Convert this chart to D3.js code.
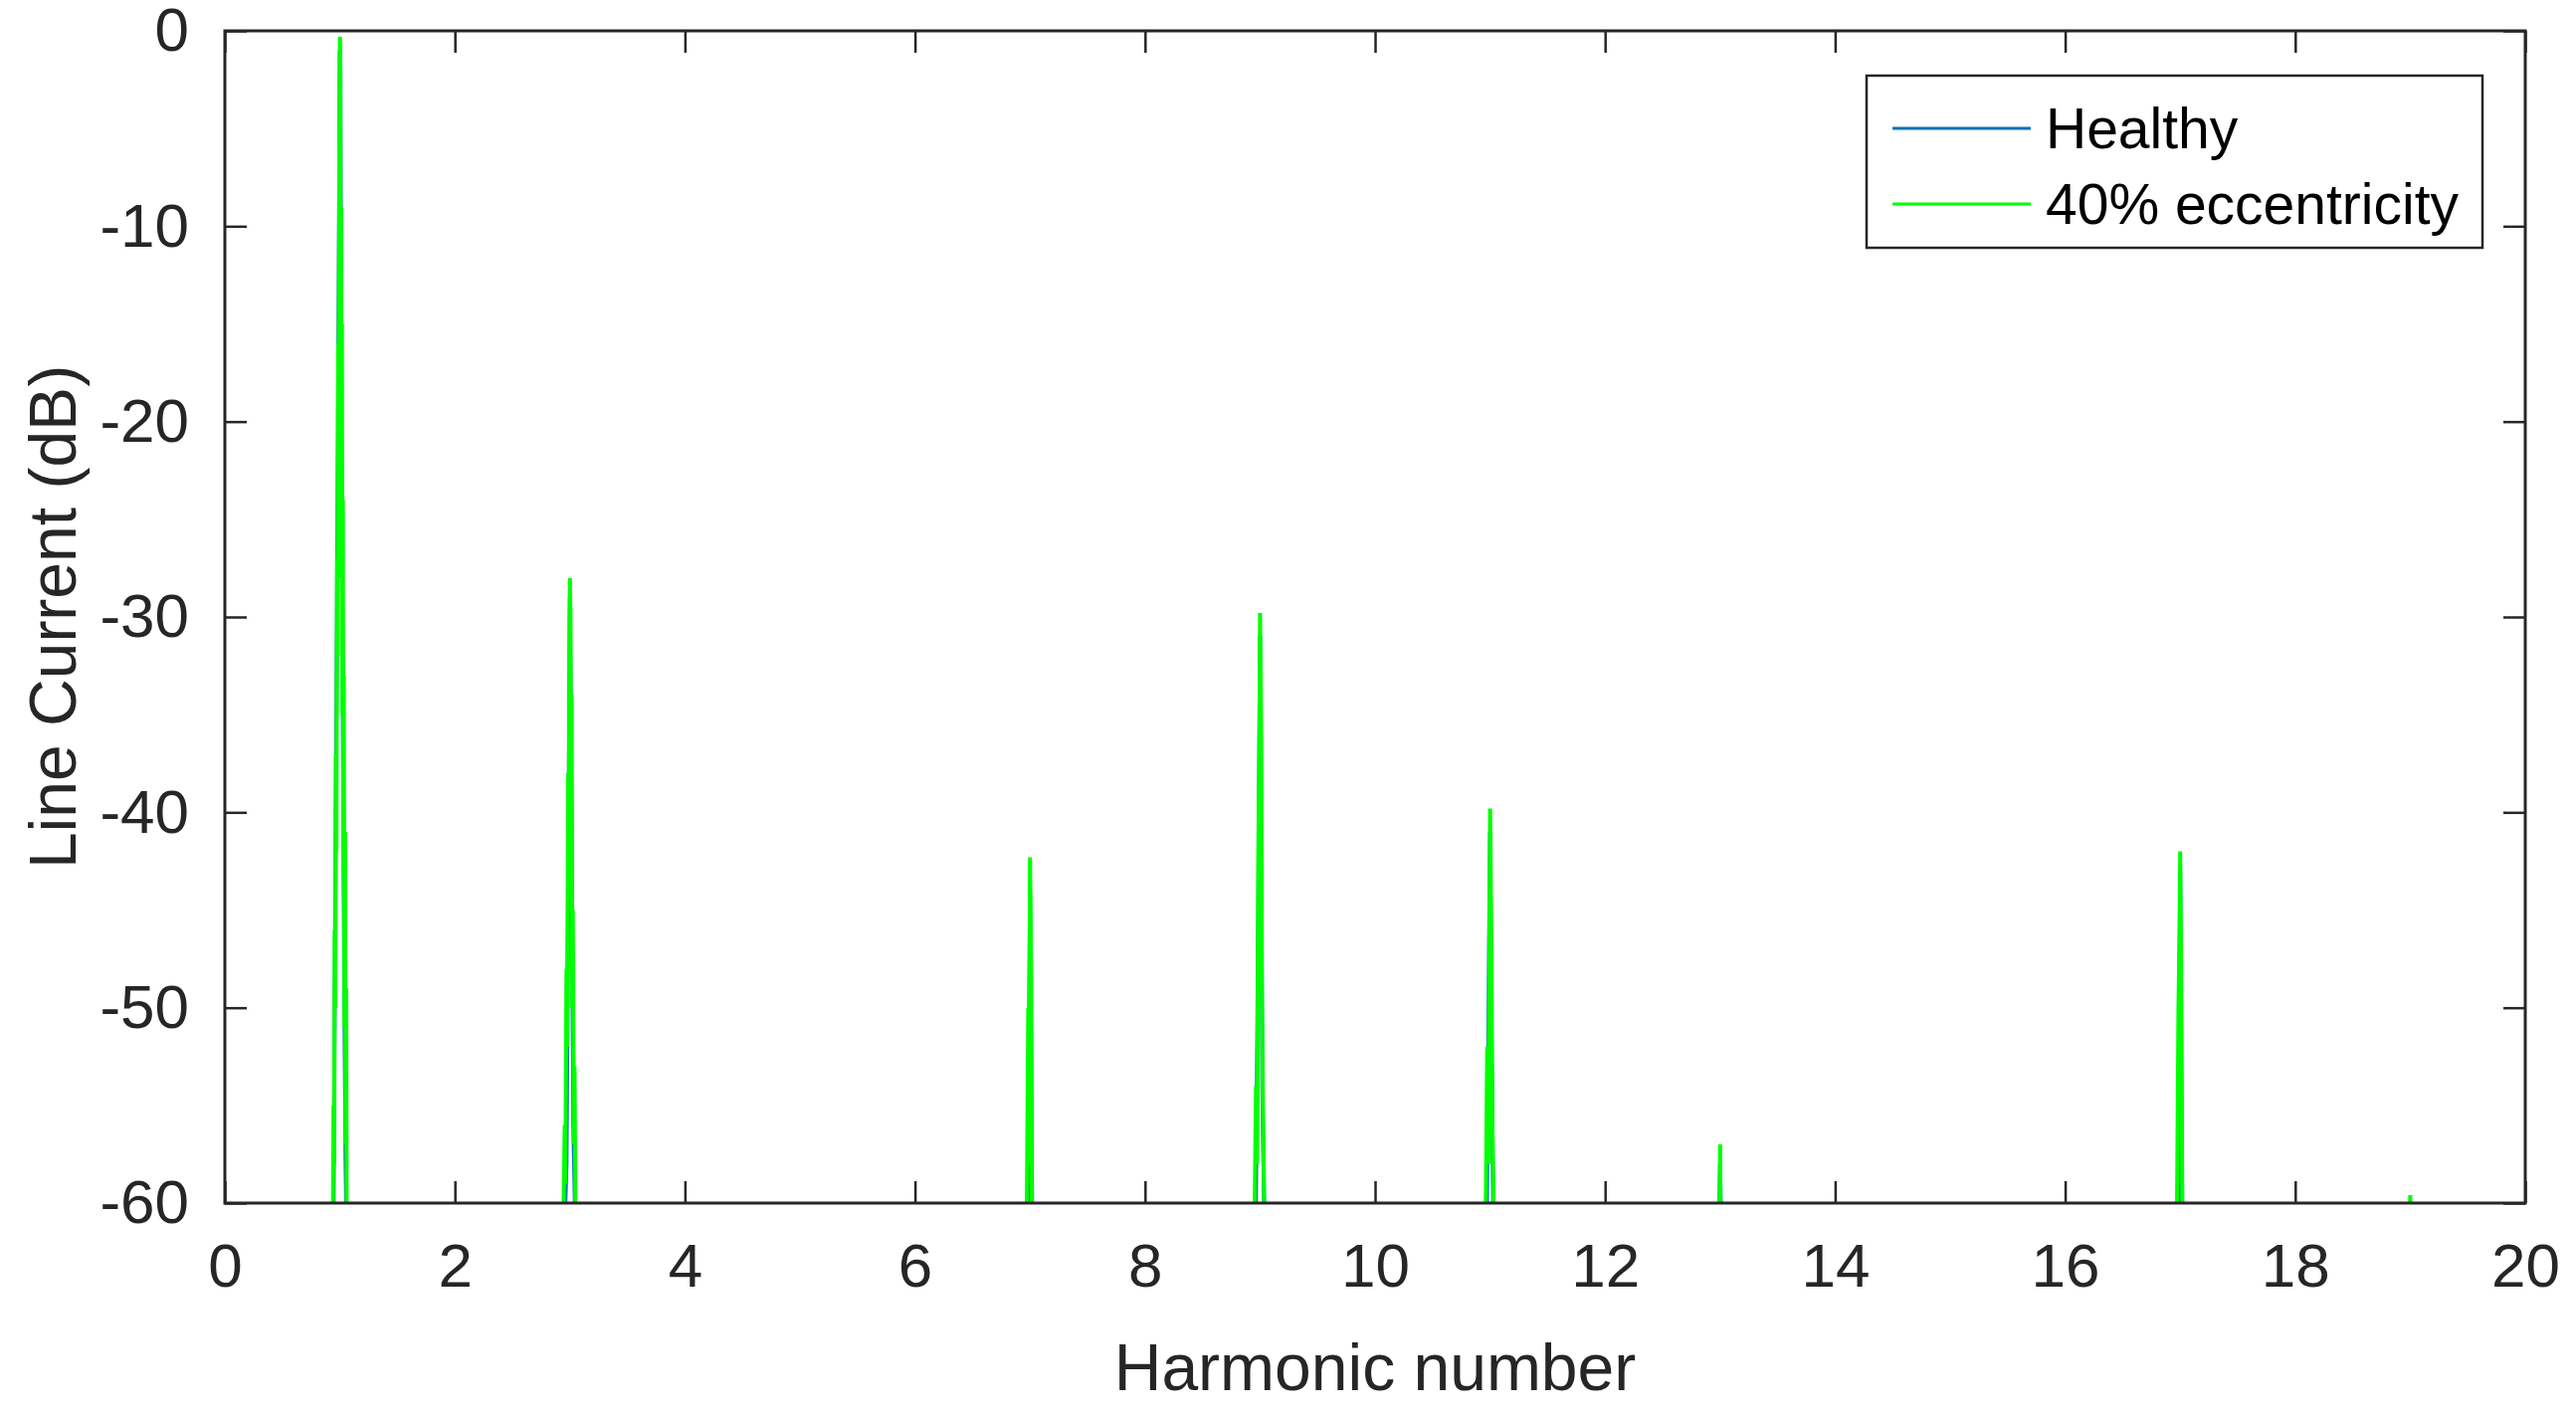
<!DOCTYPE html>
<html><head><meta charset="utf-8">
<script src="https://cdn.jsdelivr.net/npm/d3@7"></script>
<style>body{margin:0;background:#fff}</style>
</head><body><svg id="chart"></svg>
<script>
// harmonic peaks, [harmonic number, dB] samples
const healthy = [
  [0.93,-62],[0.945,-60],[0.955,-50],[0.965,-40],[0.975,-30],[0.985,-19],[0.995,-8],[1.0,-1],[1.005,-2],[1.01,-18],[1.02,-28],[1.03,-40],[1.04,-50],[1.05,-58],[1.06,-62],
  [2.95,-62],[2.97,-58],[2.98,-49],[2.99,-39],[3.0,-29],[3.01,-37],[3.02,-47],[3.03,-56],[3.05,-62],
  [6.98,-62],[6.99,-54],[7.0,-44],[7.01,-52],[7.02,-62],
  [8.96,-62],[8.97,-56],[8.985,-45],[9.0,-31],[9.01,-41],[9.02,-54],[9.04,-62],
  [10.97,-62],[10.98,-55],[11.0,-41],[11.01,-50],[11.03,-62],
  [12.99,-62],[13.0,-58],[13.01,-62],
  [16.98,-62],[16.99,-52],[17.0,-43],[17.01,-54],[17.02,-62],
  [18.99,-62],[19.0,-60],[19.01,-62]
];
const eccentric = [
  [0.92,-62],[0.94,-60],[0.945,-55],[0.95,-58],[0.955,-46],[0.96,-50],[0.965,-37],[0.97,-42],[0.975,-27],[0.98,-32],[0.985,-16],[0.99,-20],[0.995,-6],[1.0,-0.3],[1.003,-0.5],[1.006,-16],[1.01,-9],[1.014,-28],[1.018,-15],[1.022,-35],[1.026,-24],[1.03,-43],[1.034,-33],[1.04,-51],[1.045,-41],[1.05,-57],[1.055,-49],[1.06,-62],
  [2.94,-62],[2.955,-56],[2.96,-59],[2.97,-48],[2.975,-52],[2.985,-38],[2.99,-41],[2.995,-32],[3.0,-28],[3.005,-30],[3.01,-41],[3.015,-34],[3.02,-50],[3.025,-45],[3.035,-57],[3.04,-53],[3.05,-62],
  [6.97,-62],[6.985,-50],[6.99,-58],[7.0,-42.3],[7.01,-48],[7.015,-60],[7.03,-62],
  [8.95,-62],[8.965,-54],[8.975,-58],[8.985,-42],[8.995,-36],[9.0,-29.8],[9.01,-36],[9.015,-48],[9.025,-55],[9.04,-62],
  [10.96,-62],[10.975,-52],[10.985,-58],[11.0,-39.8],[11.01,-46],[11.02,-56],[11.035,-62],
  [12.995,-62],[13.0,-57],[13.005,-62],
  [16.97,-62],[16.985,-50],[16.995,-46],[17.0,-42],[17.01,-50],[17.02,-62],
  [18.99,-62],[19.0,-59.6],[19.01,-62]
];
const xTicks = [0,2,4,6,8,10,12,14,16,18,20];
const yTicks = [-60,-50,-40,-30,-20,-10,0];
const seriesNames = ["Healthy","40% eccentricity"];
const seriesColors = ["#0072BD","#00FF00"];

const W = 2589, H = 1427;
const m = {left:226, right:51, top:31, bottom:218};
const svg = d3.select("#chart").attr("width",W).attr("height",H)
  .style("font-family","Arial, 'Liberation Sans', Helvetica, sans-serif");

const x = d3.scaleLinear().domain([0,20]).range([m.left, W-m.right]);
const y = d3.scaleLinear().domain([-60,0]).range([H-m.bottom, m.top]);

svg.append("clipPath").attr("id","clip").append("rect")
  .attr("x",m.left).attr("y",m.top).attr("width",x(20)-x(0)).attr("height",y(-60)-y(0));

const line = d3.line().x(d=>x(d[0])).y(d=>y(d[1]));
const plot = svg.append("g").attr("clip-path","url(#clip)");
[healthy, eccentric].forEach((s,i)=>{
  plot.append("path").datum(s).attr("d",line).attr("fill","none")
    .attr("stroke",seriesColors[i]).attr("stroke-width",4);
});

const col = "#262626", tk = 22;
const axStyle = g => {
  g.select(".domain").remove();
  g.selectAll("line").attr("stroke",col).attr("stroke-width",2.5);
  g.selectAll("text").attr("fill",col).style("font-size","62px");
};
const fmt = d => String(d);
svg.append("g").attr("transform",`translate(0,${y(-60)})`)
  .call(d3.axisBottom(x).tickValues(xTicks).tickSize(-tk).tickFormat(fmt).tickPadding(tk+18)).call(axStyle);
svg.append("g").attr("transform",`translate(0,${y(0)})`)
  .call(d3.axisTop(x).tickValues(xTicks).tickSize(-tk).tickFormat("")).call(axStyle);
svg.append("g").attr("transform",`translate(${x(0)},0)`)
  .call(d3.axisLeft(y).tickValues(yTicks).tickSize(-tk).tickFormat(fmt).tickPadding(tk+14)).call(axStyle);
svg.append("g").attr("transform",`translate(${x(20)},0)`)
  .call(d3.axisRight(y).tickValues(yTicks).tickSize(-tk).tickFormat("")).call(axStyle);
svg.append("rect").attr("x",x(0)).attr("y",y(0)).attr("width",x(20)-x(0)).attr("height",y(-60)-y(0))
  .attr("fill","none").attr("stroke",col).attr("stroke-width",3);

svg.append("text").attr("x",(x(0)+x(20))/2).attr("y",H-30).attr("text-anchor","middle")
  .attr("fill",col).style("font-size","66px").text("Harmonic number");
svg.append("text").attr("transform",`translate(76,${(y(0)+y(-60))/2}) rotate(-90)`)
  .attr("text-anchor","middle").attr("fill",col).style("font-size","66px").text("Line Current (dB)");

const lg = svg.append("g").attr("transform","translate(1876,76)");
lg.append("rect").attr("width",619).attr("height",173).attr("fill","#fff").attr("stroke",col).attr("stroke-width",2.5);
seriesNames.forEach((n,i)=>{
  const yy = 53 + i*76;
  lg.append("line").attr("x1",26).attr("x2",165).attr("y1",yy).attr("y2",yy)
    .attr("stroke",seriesColors[i]).attr("stroke-width",3);
  lg.append("text").attr("x",180).attr("y",yy+20).attr("fill","#000").style("font-size","57px").text(n);
});
</script></body></html>
